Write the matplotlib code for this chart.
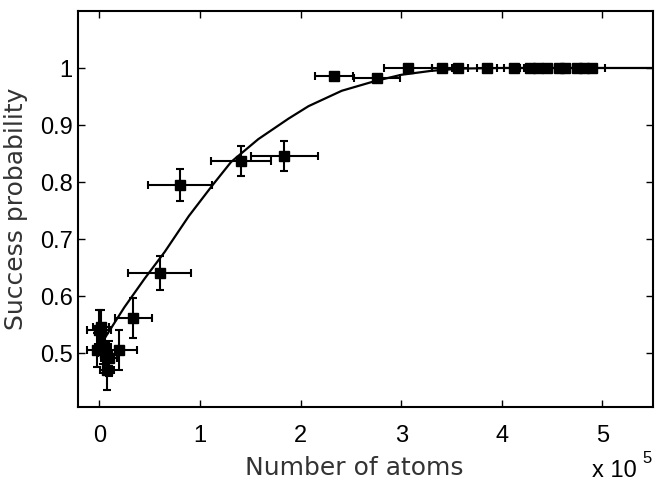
import matplotlib
matplotlib.use("Agg")
import matplotlib.pyplot as plt
import numpy as np

# 数据 (x in units of 1e5 atoms)
pts_x = [-0.02, 0.0, 0.02, 0.04, 0.06, 0.08, 0.1, 0.2, 0.34, 0.6, 0.8, 1.41, 1.84,
         2.33, 2.76, 3.07, 3.41, 3.56, 3.85, 4.12, 4.28, 4.36, 4.45, 4.57, 4.63,
         4.75, 4.82, 4.9]
pts_y = [0.505, 0.54, 0.545, 0.51, 0.50, 0.47, 0.49, 0.505, 0.561, 0.64, 0.795, 0.837, 0.846,
         0.986, 0.982, 1.0, 1.0, 1.0, 1.0, 1.0, 1.0, 1.0, 1.0, 1.0, 1.0,
         1.0, 1.0, 1.0]
xerr = [0.1, 0.12, 0.08, 0.08, 0.07, 0.07, 0.08, 0.18, 0.18, 0.31, 0.32, 0.3, 0.33,
        0.19, 0.23, 0.24, 0.1, 0.1, 0.1, 0.1, 0.1, 0.1, 0.1, 0.1, 0.1,
        0.1, 0.1, 0.13]
yerr = [0.03, 0.035, 0.03, 0.03, 0.035, 0.035, 0.03, 0.035, 0.035, 0.03, 0.028, 0.026, 0.026,
        0.005, 0.005, 0.003, 0.002, 0.002, 0.002, 0.002, 0.002, 0.002, 0.002, 0.002, 0.002,
        0.002, 0.002, 0.002]

# 拟合曲线
fit_x = [0.0, 0.07, 0.25, 0.45, 0.65, 0.89, 1.12, 1.31, 1.58, 1.88, 2.08, 2.41, 2.74,
         3.0, 3.3, 3.6, 4.0, 5.5]
fit_y = [0.51, 0.53, 0.58, 0.630, 0.677, 0.740, 0.793, 0.835, 0.875, 0.911, 0.933, 0.96, 0.977,
         0.988, 0.995, 0.999, 1.0, 1.0]

fig = plt.figure(figsize=(6.62, 4.81), dpi=100)
ax = fig.add_axes([0.118, 0.152, 0.868, 0.823])

ax.plot(fit_x, fit_y, color='k', linewidth=1.6)
ax.errorbar(pts_x, pts_y, xerr=xerr, yerr=yerr, fmt='s', color='k', markersize=7,
            elinewidth=1.5, capsize=3, capthick=1.5)

ax.set_xlim(-0.21, 5.5)
ax.set_ylim(0.405, 1.1)
ax.set_xticks([0, 1, 2, 3, 4, 5])
ax.set_yticks([0.5, 0.6, 0.7, 0.8, 0.9, 1.0])
ax.set_yticklabels(['0.5', '0.6', '0.7', '0.8', '0.9', '1'])
ax.tick_params(direction='in', top=True, right=True, length=5, width=1,
               labelsize=17)
ax.tick_params(axis='x', pad=12)
ax.tick_params(axis='y', pad=4)
for lab in ax.get_xticklabels() + ax.get_yticklabels():
    lab.set_family('Liberation Sans')
for s in ax.spines.values():
    s.set_linewidth(1.5)

# 坐标轴标题
fig.text(0.535, 0.0125, 'Number of atoms', fontsize=18, color='#333333',
         ha='center', va='baseline')
fig.text(0.024, 0.565, 'Success probability', fontsize=18, color='#333333',
         ha='center', va='center', rotation=90)
fig.text(0.895, 0.008, 'x 10', fontsize=17, family='Liberation Sans', va='baseline')
fig.text(0.970, 0.038, '5', fontsize=12, family='Liberation Sans', va='baseline')

fig.savefig('out.png', dpi=100)
